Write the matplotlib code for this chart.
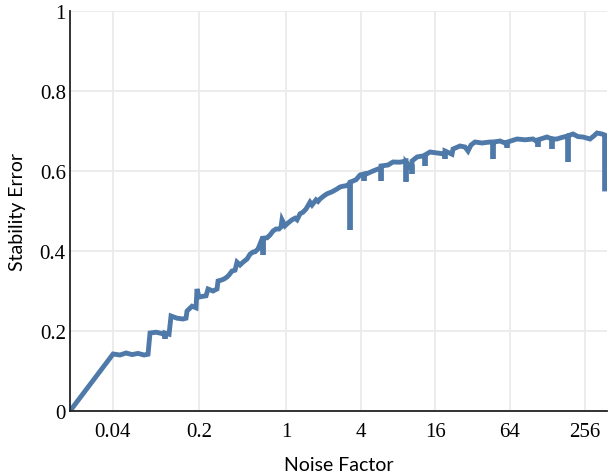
import numpy as np
import matplotlib.pyplot as plt

# noise factor (x) and stability error (y)
# repeated x values are the narrow downward spikes
noise = [0.0181, 0.0403, 0.0458, 0.0513, 0.0573, 0.0640, 0.0716, 0.0771,
         0.0800, 0.0895, 0.1019, 0.1057, 0.1057, 0.1057, 0.1139, 0.1182,
         0.1321, 0.1477, 0.1561, 0.1591, 0.1746, 0.1880, 0.1915, 0.1987,
         0.2264, 0.2350, 0.2578, 0.2777, 0.2829, 0.2991, 0.3162, 0.3344,
         0.3469, 0.3668, 0.3879, 0.4025, 0.4256, 0.4498, 0.4847, 0.5125,
         0.5418, 0.5623, 0.5945, 0.6405, 0.6524, 0.6524, 0.6524, 0.7028,
         0.7430, 0.7856, 0.8308, 0.8780, 0.9114, 0.9284, 0.9815, 1.038,
         1.1178, 1.182, 1.227, 1.2970, 1.371, 1.4498, 1.5612, 1.6204,
         1.746, 1.812, 1.8799, 2.025, 2.1413, 2.3496, 2.5780, 2.727,
         2.8826, 3.047, 3.2820, 3.2820, 3.2820, 3.6683, 3.9530, 4.2560,
         4.2560, 4.2560, 5.0305, 5.5197, 5.8375, 5.8375, 5.8375, 6.646,
         7.293, 8.308, 9.284, 9.284, 9.284, 10.0, 10.378, 10.378,
         10.378, 11.390, 12.265, 13.213, 13.213, 13.213, 14.498, 16.513,
         18.456, 19.152, 19.152, 19.152, 21.82, 22.23, 25.31, 27.77,
         29.36, 31.04, 33.44, 38.07, 44.18, 46.71, 46.71, 46.71,
         53.18, 58.38, 60.58, 60.58, 60.58, 72.93, 84.60, 98.15,
         107.72, 107.72, 107.72, 127.27, 139.7, 139.7, 139.7, 153.3,
         168.2, 188.1, 188.1, 188.1, 206.3, 226.4, 248.5, 282.9,
         304.8, 322.2, 353.5, 371.0, 371.0]
error = [0.0, 0.1425, 0.140, 0.145, 0.141, 0.144, 0.140, 0.142,
         0.195, 0.197, 0.193, 0.193, 0.180, 0.195, 0.192, 0.2375,
         0.232, 0.230, 0.232, 0.250, 0.262, 0.258, 0.305, 0.285,
         0.288, 0.305, 0.300, 0.305, 0.325, 0.327, 0.330, 0.335,
         0.340, 0.350, 0.352, 0.372, 0.365, 0.372, 0.380, 0.392,
         0.3975, 0.398, 0.405, 0.430, 0.430, 0.390, 0.432, 0.433,
         0.440, 0.450, 0.455, 0.455, 0.460, 0.478, 0.463, 0.470,
         0.478, 0.482, 0.478, 0.493, 0.497, 0.505, 0.522, 0.515,
         0.528, 0.524, 0.530, 0.538, 0.543, 0.548, 0.555, 0.560,
         0.562, 0.563, 0.568, 0.4525, 0.572, 0.578, 0.590, 0.5925,
         0.575, 0.590, 0.600, 0.605, 0.605, 0.575, 0.6125, 0.615,
         0.6225, 0.622, 0.625, 0.573, 0.622, 0.610, 0.610, 0.5925,
         0.625, 0.635, 0.637, 0.637, 0.6125, 0.640, 0.6475, 0.645,
         0.643, 0.643, 0.630, 0.650, 0.642, 0.655, 0.6625, 0.660,
         0.650, 0.665, 0.6725, 0.670, 0.6725, 0.672, 0.630, 0.672,
         0.675, 0.670, 0.670, 0.658, 0.672, 0.680, 0.678, 0.680,
         0.672, 0.660, 0.678, 0.685, 0.680, 0.655, 0.680, 0.680,
         0.684, 0.6875, 0.6225, 0.688, 0.6925, 0.686, 0.685, 0.680,
         0.688, 0.695, 0.6925, 0.690, 0.555]

xticks = [0.04, 0.2, 1, 4, 16, 64, 256]
xtick_labels = ['0.04', '0.2', '1', '4', '16', '64', '256']
yticks = [0, 0.2, 0.4, 0.6, 0.8, 1]
ytick_labels = ['0', '0.2', '0.4', '0.6', '0.8', '1']

fig = plt.figure(figsize=(6.15, 4.77), dpi=100)
ax = fig.add_axes([70 / 615, 1 - 412 / 477, 537 / 615, 400 / 477])

ax.plot(noise, error, color='#4f79a8', linewidth=3.5, solid_joinstyle='miter')

ax.set_xscale('log')
ax.set_xlim(0.0181, 388)
ax.set_ylim(0, 1)

ax.set_xticks(xticks)
ax.set_xticklabels(xtick_labels)
ax.xaxis.set_minor_locator(plt.NullLocator())
ax.set_yticks(yticks)
ax.set_yticklabels(ytick_labels)

for lab in ax.get_xticklabels() + ax.get_yticklabels():
    lab.set_family('Liberation Serif')
    lab.set_fontsize(15)
ax.tick_params(axis='both', length=0)
ax.tick_params(axis='x', pad=8)
ax.tick_params(axis='y', pad=3)

ax.grid(True, color='#eaeaea', linewidth=1.3)
ax.set_axisbelow(True)
for s in ['top', 'right']:
    ax.spines[s].set_visible(False)
for s in ['left', 'bottom']:
    ax.spines[s].set_color('#222222')
    ax.spines[s].set_linewidth(1.3)

ax.set_xlabel('Noise Factor', family='Lato', fontsize=14, labelpad=11)
ax.set_ylabel('Stability Error', family='Lato', fontsize=14, labelpad=10)

fig.savefig('out.png', dpi=100)
